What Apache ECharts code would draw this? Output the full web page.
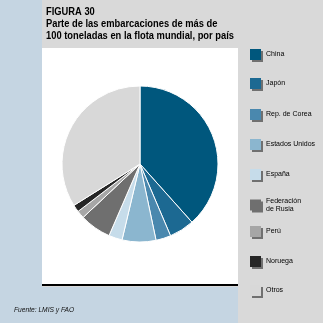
<!DOCTYPE html>
<html><head><meta charset="utf-8">
<script src="https://cdn.jsdelivr.net/npm/echarts@6/dist/echarts.min.js"></script>
<style>html,body{margin:0;padding:0;background:#d9d9d9}#c{width:323px;height:323px}</style>
</head><body><div id="c"></div>
<script>
var categories = ['China','Japón','Rep. de Corea','Estados Unidos','España','Federación de Rusia','Perú','Noruega','Otros'];
var legendLabels = ['China','Japón','Rep. de Corea','Estados Unidos','España','Federación\nde Rusia','Perú','Noruega','Otros'];
var values = [38.4, 5.2, 3.1, 7.0, 2.8, 6.5, 1.6, 1.5, 33.9];
var colors = ['#00577d','#1c6992','#4a88ae','#8bb6cf','#c6dcea','#6f6f6f','#a6a6a6','#262626','#d8d8d8'];
var titleLines = ['FIGURA 30','Parte de las embarcaciones de más de','100 toneladas en la flota mundial, por país'];
var sourceText = 'Fuente: LMIS y FAO';

var FONT = "'Liberation Sans',Arial,sans-serif";
var legendTops = [49, 78, 109, 139, 169, 197, 226, 256, 285];

var legends = categories.map(function(name, i){
  return {
    data: [name], orient: 'vertical', left: 250, top: legendTops[i],
    itemWidth: 11, itemHeight: 11, itemGap: 0, padding: 0,
    icon: 'rect',
    itemStyle: {shadowColor: 'rgba(100,100,100,0.9)', shadowBlur: 0, shadowOffsetX: 2, shadowOffsetY: 2, borderWidth: 0},
    selectedMode: false,
    formatter: function(){ return legendLabels[i]; },
    textStyle: {fontFamily: FONT, fontSize: 7, color: '#000', lineHeight: 8, padding: [0,0,0,0]}
  };
});

var chart = echarts.init(document.getElementById('c'), null, {renderer: 'canvas'});
chart.setOption({
  animation: false,
  backgroundColor: '#d9d9d9',
  color: colors,
  graphic: [
    {type: 'rect', z: -10, shape: {x: 0, y: 0, width: 42, height: 323}, style: {fill: '#c5d5e2'}},
    {type: 'rect', z: -10, shape: {x: 0, y: 287, width: 238, height: 36}, style: {fill: '#c5d5e2'}},
    {type: 'rect', z: -9, shape: {x: 42, y: 48, width: 196, height: 237}, style: {fill: '#ffffff'}},
    {type: 'rect', z: -9, shape: {x: 42, y: 284, width: 196, height: 2}, style: {fill: '#000000'}},
    {type: 'text', z: 5, x: 46, y: 6, scaleX: 0.89,
      style: {text: titleLines.join('\n'), font: 'bold 10.5px ' + FONT, fill: '#000', lineHeight: 12, verticalAlign: 'top'}},
    {type: 'text', z: 5, x: 14, y: 307, scaleX: 0.95,
      style: {text: sourceText, font: 'italic 7px ' + FONT, fill: '#111', verticalAlign: 'top'}}
  ],
  legend: legends,
  series: [{
    type: 'pie', center: [140, 164], radius: 78, startAngle: 90, clockwise: true,
    label: {show: false}, labelLine: {show: false}, silent: true,
    itemStyle: {borderColor: '#ffffff', borderWidth: 1},
    data: categories.map(function(n, i){ return {name: n, value: values[i]}; })
  }]
});
</script></body></html>
